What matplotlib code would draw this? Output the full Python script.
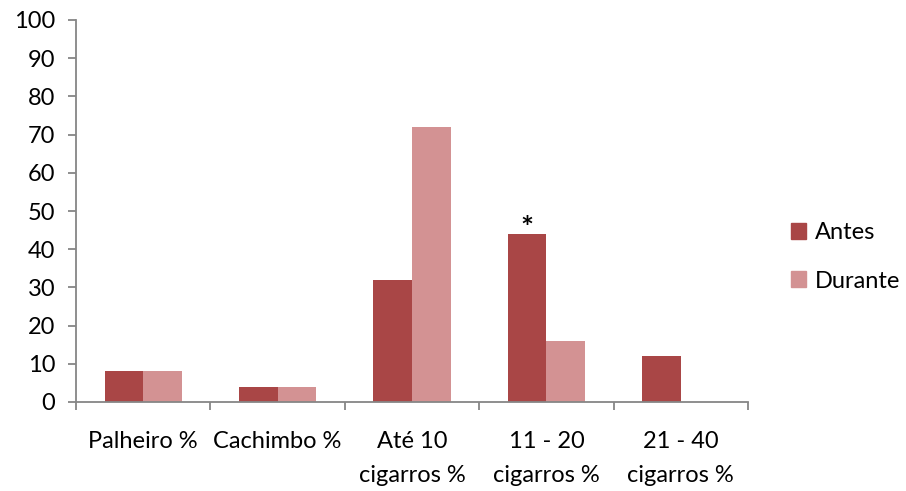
import matplotlib
matplotlib.use("Agg")
import matplotlib.pyplot as plt
import numpy as np
from matplotlib.patches import Patch

categories = ["Palheiro %", "Cachimbo %", "Até 10\ncigarros %", "11 - 20\ncigarros %", "21 - 40\ncigarros %"]
antes = [8, 4, 32, 44, 12]
durante = [8, 4, 72, 16, 0]
series_names = ["Antes", "Durante"]
star_index = 3

plt.rcParams['font.family'] = ['Lato', 'DejaVu Sans']
c_antes = "#A94646"
c_dur = "#D39293"
axis_c = "#868686"
fs = 17

fig = plt.figure(figsize=(9.06, 4.91), dpi=100)
ax = fig.add_axes([76/906, 1-402/491, (748-76)/906, (402-20)/491])

x = np.arange(len(categories))
w = 0.287
ax.bar(x - w/2, antes, w, color=c_antes)
ax.bar(x + w/2, durante, w, color=c_dur)

ax.set_xlim(-0.5, len(categories)-0.5)
ax.set_ylim(0, 100)
ax.set_yticks(np.arange(0, 101, 10))
ax.tick_params(axis='y', labelsize=fs, colors=axis_c, labelcolor='black', length=6, width=1.3, direction='out', pad=9)

ax.set_xticks(np.arange(-0.5, len(categories), 1))
ax.set_xticklabels([])
ax.set_xticks(x, minor=True)
ax.set_xticklabels(categories, minor=True, fontsize=fs, linespacing=1.75)
ax.tick_params(axis='x', which='major', colors=axis_c, length=6, width=1.3, direction='out')
ax.tick_params(axis='x', which='minor', length=0, pad=21, labelcolor='black')
for lbl in ax.get_xticklabels(minor=True):
    lbl.set_verticalalignment('top')

for s in ['top', 'right']:
    ax.spines[s].set_visible(False)
for s in ['left', 'bottom']:
    ax.spines[s].set_color(axis_c)
    ax.spines[s].set_linewidth(1.3)

ax.text(star_index - w/2, antes[star_index] - 2.3, "*", ha='center', va='bottom', fontsize=22, fontweight='bold')

handles = [Patch(color=c_antes), Patch(color=c_dur)]
fig.legend(handles, series_names, loc='center left', bbox_to_anchor=(784/906, 1-257/491),
           frameon=False, fontsize=fs, handlelength=0.65, handleheight=0.65,
           labelspacing=1.15, handletextpad=0.35, borderaxespad=0, borderpad=0.3)

fig.savefig("out.png", dpi=100)
